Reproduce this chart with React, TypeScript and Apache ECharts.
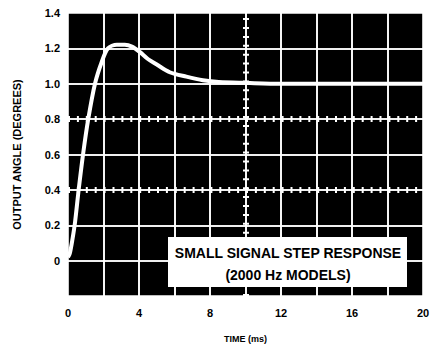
import React, { useEffect, useRef } from "react";
import * as echarts from "echarts";

const timeMs = [0, 0.1, 0.25, 0.4, 0.6, 0.86, 1.14, 1.52, 1.89, 2.25, 2.75, 3.2, 3.6, 4.04, 4.5, 4.98, 5.73, 6.67, 7.6, 8.5, 10, 12, 14, 16, 18, 20];
const angleDeg = [0.02, 0.04, 0.12, 0.22, 0.4, 0.61, 0.8, 1.0, 1.12, 1.2, 1.22, 1.22, 1.21, 1.18, 1.14, 1.11, 1.065, 1.04, 1.02, 1.01, 1.005, 1.0, 1.0, 1.0, 1.0, 1.0];
const xGrid = [2, 4, 6, 8, 10, 12, 14, 16, 18];
const yGrid = [0, 0.2, 0.4, 0.6, 0.8, 1.0, 1.2];
const dottedY = [0.4, 0.8];
const dottedX = [10];
const legendLines = ["SMALL SIGNAL STEP RESPONSE", "(2000 Hz MODELS)"];

const FONT = "'Liberation Sans', Arial, sans-serif";

const GL = 68, GR = 10, GT = 13, GB = 54, W = 433, H = 350;

export default function App() {
  const ref = useRef<HTMLDivElement>(null);
  useEffect(() => {
    if (!ref.current) return;
    const chart = echarts.init(ref.current, undefined, { renderer: "svg" });
    const grid = { lineStyle: { color: "#ffffff", width: 1.6, type: "solid", opacity: 1 } };
    const ticks = { lineStyle: { color: "#ffffff", width: 6, type: [2, 6.9], opacity: 1 } };
    const markData: any[] = [];
    xGrid.forEach((x) => markData.push({ xAxis: x, ...grid }));
    yGrid.forEach((y) => markData.push({ yAxis: y, ...grid }));
    dottedY.forEach((y) => markData.push({ yAxis: y, ...ticks }));
    dottedX.forEach((x) => markData.push({ xAxis: x, ...ticks }));
    chart.setOption({
      animation: false,
      backgroundColor: "#fff",
      grid: {
        left: GL,
        right: GR,
        top: GT,
        bottom: GB,
        show: false,
      },
      xAxis: {
        type: "value",
        min: 0,
        max: 20,
        interval: 2,
        name: "TIME (ms)",
        nameLocation: "middle",
        nameGap: 38,
        nameTextStyle: { fontFamily: FONT, fontWeight: "bold", fontSize: 9, color: "#000" },
        axisLine: { show: false },
        axisTick: { show: false },
        axisLabel: {
          margin: 11,
          fontFamily: FONT,
          fontWeight: "bold",
          fontSize: 11,
          color: "#000",
          formatter: (v: number) => (v % 4 === 0 ? String(v) : ""),
        },
        splitLine: { show: true, lineStyle: { color: "#ffffff", width: 1.6, opacity: 1 } },
      },
      yAxis: {
        type: "value",
        min: -0.2,
        max: 1.4,
        interval: 0.2,
        name: "OUTPUT ANGLE (DEGREES)",
        nameLocation: "middle",
        nameGap: 46,
        nameTextStyle: { fontFamily: FONT, fontWeight: "bold", fontSize: 11, color: "#000" },
        axisLine: { show: false },
        axisTick: { show: false },
        axisLabel: {
          margin: 8,
          fontFamily: FONT,
          fontWeight: "bold",
          fontSize: 11,
          color: "#000",
          formatter: (v: number) => {
            if (v < -0.01) return "";
            if (Math.abs(v) < 0.01) return "0";
            return v.toFixed(1);
          },
        },
        splitLine: { show: true, lineStyle: { color: "#ffffff", width: 1.6, opacity: 1 } },
      },
      series: [
        {
          type: "line",
          data: timeMs.map((t, i) => [t, angleDeg[i]]),
          smooth: 0.3,
          showSymbol: false,
          lineStyle: { color: "#fff", width: 4 },
          z: 5,
          markLine: {
            silent: true,
            symbol: "none",
            label: { show: false },
            z: 3,
            data: markData,
          },
        },
      ],
      graphic: [
        {
          type: "rect",
          z: -100,
          silent: true,
          shape: { x: GL, y: GT, width: W - GL - GR, height: H - GT - GB },
          style: { fill: "#000" },
        },
        {
          type: "rect",
          z: 100,
          shape: { x: 168, y: 237, width: 239, height: 50 },
          style: { fill: "#fff" },
        },
        {
          type: "text",
          z: 101,
          x: 288,
          y: 253,
          style: {
            text: legendLines[0],
            fill: "#000",
            font: `bold 14px ${FONT}`,
            textAlign: "center",
            textVerticalAlign: "middle",
          },
        },
        {
          type: "text",
          z: 101,
          x: 288,
          y: 275,
          style: {
            text: legendLines[1],
            fill: "#000",
            font: `bold 14px ${FONT}`,
            textAlign: "center",
            textVerticalAlign: "middle",
          },
        },
      ],
    });
    return () => chart.dispose();
  }, []);
  return <div ref={ref} style={{ position: "fixed", left: 0, top: 0, width: W, height: H }} />;
}
